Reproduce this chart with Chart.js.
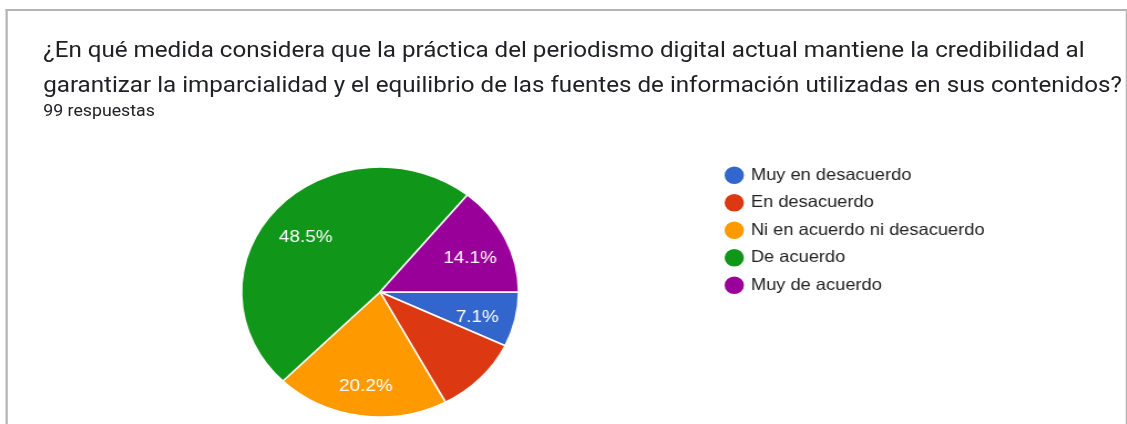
<!DOCTYPE html>
<html>
<head>
<meta charset="utf-8">
<script src="https://cdn.jsdelivr.net/npm/chart.js@4.4.1/dist/chart.umd.min.js"></script>
<style>
  html, body { margin: 0; padding: 0; background: #fff; overflow: hidden; width: 1127px; height: 424px; }
  /* the reference screenshot is stretched horizontally, so the whole card is too */
  #card { position: absolute; left: 0; top: 0; width: 1017px; height: 424px; transform: scaleX(1.108); transform-origin: 0 0; }
  #frame { position: absolute; left: 5px; top: 9px; width: 1009px; height: 500px; border: 2px solid #b4b4b4; border-bottom: none; }
  #title { position: absolute; left: 39px; top: 32px; font-family: Roboto, sans-serif; font-size: 21.8px; line-height: 35px; color: #202124; white-space: nowrap; }
  #sub { position: absolute; left: 39px; top: 101px; font-family: Roboto, sans-serif; font-size: 16px; line-height: 20px; color: #202124; }
  #wrap { position: absolute; left: 41px; top: 156px; width: 934px; height: 272px; }
</style>
</head>
<body>
<div id="card">
  <div id="frame"></div>
  <div id="title">¿En qué medida considera que la práctica del periodismo digital actual mantiene la credibilidad al<br>garantizar la imparcialidad y el equilibrio de las fuentes de información utilizadas en sus contenidos?</div>
  <div id="sub">99 respuestas</div>
  <div id="wrap"><canvas id="myPieChart"></canvas></div>
</div>
<script>
const categories = ['Muy en desacuerdo', 'En desacuerdo', 'Ni en acuerdo ni desacuerdo', 'De acuerdo', 'Muy de acuerdo'];
const responses = [7, 10, 20, 48, 14];
const sliceLabels = ['7.1%', '', '20.2%', '48.5%', '14.1%'];
const sliceColors = ['#3366cc', '#dc3912', '#ff9900', '#109618', '#990099'];

// fixed legend width so the pie sits where it does in the reference
const legendWidth = {
    id: 'legendWidth',
    beforeInit(chart) {
        const fit = chart.legend.fit;
        chart.legend.fit = function () {
            fit.call(this);
            this.width = 330;
        };
    }
};

// percentage text inside the slices
const sliceText = {
    id: 'sliceText',
    afterDatasetsDraw(chart) {
        const ctx = chart.ctx;
        const arcs = chart.getDatasetMeta(0).data;
        ctx.save();
        ctx.fillStyle = '#ffffff';
        ctx.font = '17px "Liberation Sans", Arial, sans-serif';
        ctx.textAlign = 'center';
        ctx.textBaseline = 'middle';
        arcs.forEach((arc, i) => {
            if (!sliceLabels[i]) return;
            const mid = (arc.startAngle + arc.endAngle) / 2;
            const r = arc.outerRadius * 0.72;
            ctx.fillText(sliceLabels[i], arc.x + Math.cos(mid) * r, arc.y + Math.sin(mid) * r + 5);
        });
        ctx.restore();
    }
};

const ctx = document.getElementById('myPieChart').getContext('2d');
new Chart(ctx, {
    type: 'pie',
    data: {
        labels: categories,
        datasets: [{
            data: responses,
            backgroundColor: sliceColors,
            borderColor: '#ffffff',
            borderWidth: 1.5,
            radius: 125
        }]
    },
    options: {
        responsive: true,
        maintainAspectRatio: false,
        animation: false,
        events: [],
        rotation: 90,
        layout: { padding: 0 },
        plugins: {
            legend: {
                position: 'right',
                align: 'start',
                labels: {
                    usePointStyle: true,
                    pointStyle: 'circle',
                    boxWidth: 13.4,
                    boxHeight: 13.4,
                    padding: 11,
                    color: '#222222',
                    font: { family: '"Liberation Sans", Arial, sans-serif', size: 16.5 }
                }
            },
            tooltip: { enabled: false }
        }
    },
    plugins: [legendWidth, sliceText]
});
</script>
</body>
</html>
